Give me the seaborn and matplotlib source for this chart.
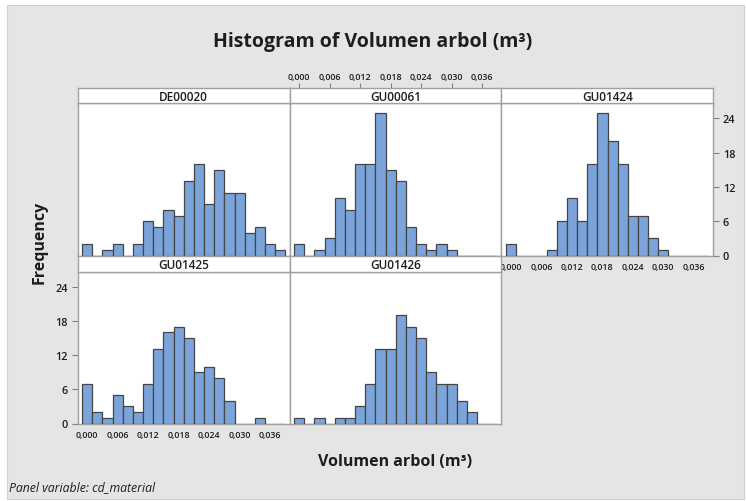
import matplotlib
matplotlib.use("Agg")
import matplotlib.pyplot as plt
import seaborn as sns
from matplotlib.patches import Rectangle

# Histogram counts per material, bins of width 0.002 centred on these values
bin_centers = [0.000, 0.002, 0.004, 0.006, 0.008, 0.010, 0.012, 0.014, 0.016, 0.018,
               0.020, 0.022, 0.024, 0.026, 0.028, 0.030, 0.032, 0.034, 0.036, 0.038]
panels = ["DE00020", "GU00061", "GU01424", "GU01425", "GU01426"]
de00020 = [2, 0, 1, 2, 0, 2, 6, 5, 8, 7, 13, 16, 9, 15, 11, 11, 4, 5, 2, 1]
gu00061 = [2, 0, 1, 3, 10, 8, 16, 16, 25, 15, 13, 5, 2, 1, 2, 1, 0, 0, 0, 0]
gu01424 = [2, 0, 0, 0, 1, 6, 10, 6, 16, 25, 20, 16, 7, 7, 3, 1, 0, 0, 0, 0]
gu01425 = [7, 2, 1, 5, 3, 2, 7, 13, 16, 17, 15, 9, 10, 8, 4, 0, 0, 1, 0, 0]
gu01426 = [1, 0, 1, 0, 1, 1, 3, 7, 13, 13, 19, 17, 15, 9, 7, 7, 4, 2, 0, 0]
counts = [de00020, gu00061, gu01424, gu01425, gu01426]
x_ticks = [0.000, 0.006, 0.012, 0.018, 0.024, 0.030, 0.036]
x_tick_labels = ["0,000", "0,006", "0,012", "0,018", "0,024", "0,030", "0,036"]
y_ticks = [0, 6, 12, 18, 24]

sns.set_theme(style="white")
plt.rcParams["font.family"] = ["Open Sans", "DejaVu Sans"]

W, H = 746, 502
fig = plt.figure(figsize=(W / 100, H / 100), dpi=100)
fig.patch.set_facecolor("white")
BG = "#E5E5E5"
fig.patches.append(Rectangle((7 / W, 1 - 500 / H), (W - 9) / W, 494 / H,
                             transform=fig.transFigure, facecolor=BG,
                             edgecolor="#D0D0D0", linewidth=0.8, zorder=-10))

def fig_rect(x0, y0, x1, y1):
    return [x0 / W, 1 - y1 / H, (x1 - x0) / W, (y1 - y0) / H]

col_x = [(77.5, 289.5), (289.5, 501.5), (501.5, 713.0)]
row_strip = [(89, 104), (257, 272.5)]
row_axes = [(104, 256.5), (272.5, 424.5)]
positions = [(0, 0), (0, 1), (0, 2), (1, 0), (1, 1)]

edges = [c - 0.001 for c in bin_centers] + [bin_centers[-1] + 0.001]
XLIM = (-0.0019, 0.0398)
YLIM = (0, 26.7)
SPINE = "#A0A0A0"
BAR = "#7BA5DA"
EDGE = "#454545"
TXT = "#1E1E1E"

for name, vals, (r, c) in zip(panels, counts, positions):
    x0, x1 = col_x[c]
    s0, s1 = row_strip[r]
    a0, a1 = row_axes[r]

    ax = fig.add_axes(fig_rect(x0, a0, x1, a1))
    ax.set_facecolor("white")
    sns.histplot(x=bin_centers, weights=vals, bins=edges, ax=ax,
                 color=BAR, edgecolor=EDGE, linewidth=0.9, alpha=1.0)
    ax.set_xlim(*XLIM)
    ax.set_ylim(*YLIM)
    ax.set_xlabel("")
    ax.set_ylabel("")
    for sp in ax.spines.values():
        sp.set_color(SPINE)
        sp.set_linewidth(1.0)
    ax.spines["bottom"].set_zorder(0.5)
    ax.set_xticks([])
    ax.set_yticks([])

    strip = fig.add_axes(fig_rect(x0, s0, x1, s1))
    strip.set_facecolor("white")
    strip.set_xlim(*XLIM)
    strip.set_yticks([])
    strip.set_xticks([])
    for sp in strip.spines.values():
        sp.set_color(SPINE)
        sp.set_linewidth(1.0)
    strip.text(0.5, 0.45, name, transform=strip.transAxes, ha="center",
               va="center", fontsize=8.5, fontweight="semibold", color=TXT)

    tick_kw = dict(direction="out", length=3.5, width=0.8, color="#808080",
                   labelcolor=TXT, pad=1.5)
    if name == "GU00061":
        strip.set_xticks(x_ticks)
        strip.set_xticklabels(x_tick_labels, fontsize=6.4, fontweight="semibold")
        strip.xaxis.set_ticks_position("top")
        strip.tick_params(axis="x", **tick_kw)
    if name in ("GU01424", "GU01425"):
        ax.set_xticks(x_ticks)
        ax.set_xticklabels(x_tick_labels, fontsize=6.4, fontweight="semibold")
        ax.tick_params(axis="x", **tick_kw)
        ax.set_yticks(y_ticks)
        ax.set_yticklabels([str(v) for v in y_ticks], fontsize=7.8,
                           fontweight="semibold")
        if name == "GU01424":
            ax.yaxis.set_ticks_position("right")
        else:
            ax.yaxis.set_ticks_position("left")
        ax.tick_params(axis="y", direction="out", length=4, width=0.8,
                       color="#808080", labelcolor=TXT, pad=3)

fig.text(373 / W, 1 - 42 / H, "Histogram of Volumen arbol (m³)", ha="center",
         va="center", fontsize=14, fontweight="bold", color=TXT)
fig.text(395 / W, 1 - 462 / H, "Volumen arbol (m³)", ha="center", va="center",
         fontsize=11.5, fontweight="bold", color=TXT)
fig.text(40 / W, 1 - 242 / H, "Frequency", ha="center", va="center",
         rotation=90, fontsize=11.5, fontweight="bold", color=TXT)
fig.text(9 / W, 1 - 488 / H, "Panel variable: cd_material", ha="left",
         va="center", fontsize=8.8, style="italic", color=TXT)

fig.savefig("out.png", dpi=100)
